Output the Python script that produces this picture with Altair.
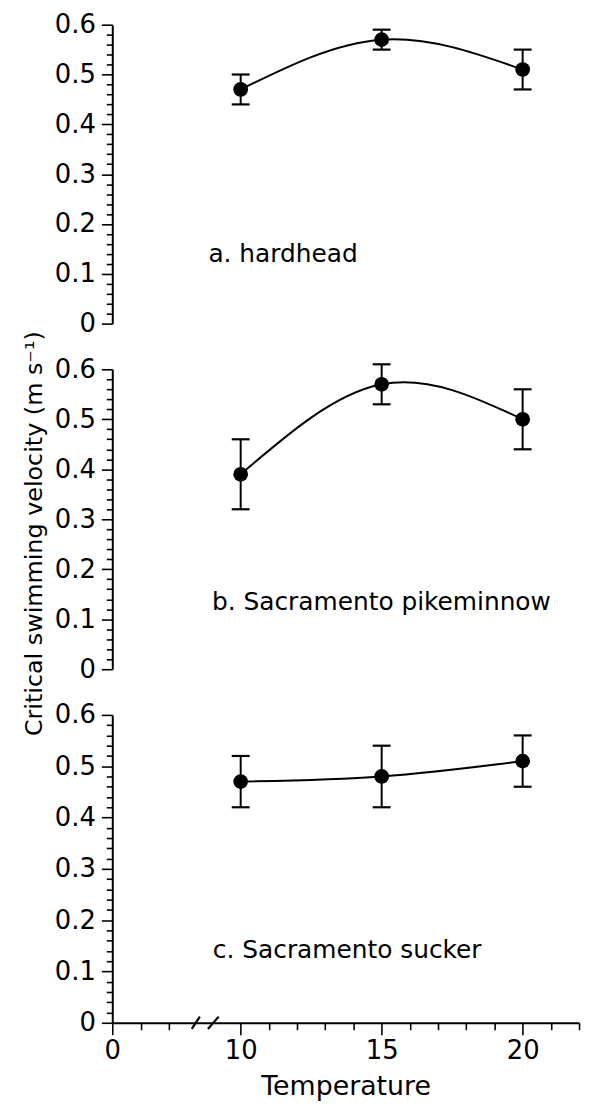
import altair as alt
import pandas as pd

# ---- data ----
TEMPS = [10, 15, 20]
HARDHEAD = [0.47, 0.57, 0.51]
HARDHEAD_LO = [0.44, 0.55, 0.47]
HARDHEAD_HI = [0.50, 0.59, 0.55]
PIKEMINNOW = [0.39, 0.57, 0.50]
PIKEMINNOW_LO = [0.32, 0.53, 0.44]
PIKEMINNOW_HI = [0.46, 0.61, 0.56]
SUCKER = [0.47, 0.48, 0.51]
SUCKER_LO = [0.42, 0.42, 0.46]
SUCKER_HI = [0.52, 0.54, 0.56]

PANEL_LABELS = ["a. hardhead", "b. Sacramento pikeminnow", "c. Sacramento sucker"]
LABEL_X = [6.4, 6.8, 6.9]
LABEL_Y = [0.14, 0.134, 0.142]

Y_TICKS = [round(i * 0.02, 2) for i in range(31)]
Y_MAJOR_TEST = "abs(datum.value * 10 - round(datum.value * 10)) < 0.001"
X_TICKS = [0, 1, 2] + list(range(10, 23))
X_MAJOR_TEST = "indexof([0, 10, 15, 20], datum.value) >= 0"

# broken x axis: piecewise scale (0-2 at full scale, 2-10 compressed)
X_DOMAIN = [0, 2, 10, 22]
X_RANGE = [0, 57, 129.3, 470]

BREAK_X1 = [4.55, 6.35]
BREAK_X2 = [5.45, 7.55]
BREAK_Y1 = [-0.012, -0.012]
BREAK_Y2 = [0.012, 0.012]

FONT = "DejaVu Sans"
W = 470
HEIGHTS = [301, 302, 310]

xscale = alt.Scale(domain=X_DOMAIN, range=X_RANGE, nice=False, zero=False)
yscale = alt.Scale(domain=[0, 0.6], nice=False, zero=False)


def y_axis(title=None):
    kw = dict(
        values=Y_TICKS,
        labelExpr=f"{Y_MAJOR_TEST} ? (datum.value < 0.001 ? '0' : format(datum.value, '.1f')) : ''",
        tickSize={"condition": {"test": Y_MAJOR_TEST, "value": 11}, "value": 6},
        labelFont=FONT, labelFontSize=26, labelColor="black", labelPadding=6,
        labelOverlap=False, labelFlush=False,
        domainColor="black", domainWidth=2, tickColor="black", tickWidth=1.6,
        grid=False,
    )
    if title:
        kw.update(title=title, titleFont=FONT, titleFontSize=24, titleFontWeight="normal",
                  titleColor="black", titleX=-78, titleY=165, titleAngle=270,
                  titleAlign="center", titleBaseline="middle")
    else:
        kw.update(title=None)
    return alt.Axis(**kw)


def x_axis_bottom():
    return alt.Axis(
        values=X_TICKS,
        labelExpr=f"{X_MAJOR_TEST} ? format(datum.value, 'd') : ''",
        tickSize={"condition": {"test": X_MAJOR_TEST, "value": 12}, "value": 7},
        labelFont=FONT, labelFontSize=26, labelColor="black", labelPadding=3,
        labelOverlap=False, labelFlush=False,
        domainColor="black", domainWidth=2, tickColor="black", tickWidth=1.6,
        grid=False,
        title="Temperature", titleFont=FONT, titleFontSize=27, titleFontWeight="normal",
        titleColor="black", titlePadding=10,
    )


def panel(vals, lo, hi, idx, height, yax, show_x):
    df = pd.DataFrame({"t": TEMPS, "v": vals, "lo": lo, "hi": hi})
    base = alt.Chart(df)

    def X(field):
        return alt.X(field, scale=xscale, axis=(x_axis_bottom() if show_x else None))

    def Y(field):
        return alt.Y(field, scale=yscale, axis=yax)

    line = base.mark_line(interpolate="natural", color="black", strokeWidth=2).encode(
        x=X("t:Q"), y=Y("v:Q")
    )
    bars = base.mark_rule(color="black", strokeWidth=2).encode(
        x=X("t:Q"), y=Y("lo:Q"), y2="hi:Q"
    )
    cap_lo = base.mark_tick(orient="horizontal", color="black", size=18, thickness=2.2, opacity=1).encode(
        x=X("t:Q"), y=Y("lo:Q")
    )
    cap_hi = base.mark_tick(orient="horizontal", color="black", size=18, thickness=2.2, opacity=1).encode(
        x=X("t:Q"), y=Y("hi:Q")
    )
    pts = base.mark_circle(color="black", size=220, opacity=1).encode(
        x=X("t:Q"), y=Y("v:Q")
    )
    lab_df = pd.DataFrame({"t": [LABEL_X[idx]], "v": [LABEL_Y[idx]], "text": [PANEL_LABELS[idx]]})
    label = alt.Chart(lab_df).mark_text(
        align="left", baseline="middle", font=FONT, fontSize=25, color="black"
    ).encode(x=X("t:Q"), y=Y("v:Q"), text="text:N")
    layers = [line, bars, cap_lo, cap_hi, pts, label]
    if show_x:
        bdf = pd.DataFrame({"t": BREAK_X1, "t2": BREAK_X2, "v": BREAK_Y1, "v2": BREAK_Y2})
        brk = alt.Chart(bdf).mark_rule(color="black", strokeWidth=2.2).encode(
            x=X("t:Q"), x2="t2:Q", y=Y("v:Q"), y2="v2:Q",
        )
        layers.append(brk)
    return alt.layer(*layers).properties(width=W, height=height)


pa = panel(HARDHEAD, HARDHEAD_LO, HARDHEAD_HI, 0, HEIGHTS[0], y_axis(), False)
pb = panel(PIKEMINNOW, PIKEMINNOW_LO, PIKEMINNOW_HI, 1, HEIGHTS[1],
           y_axis("Critical swimming velocity (m s⁻¹)"), False)
pc = panel(SUCKER, SUCKER_LO, SUCKER_HI, 2, HEIGHTS[2], y_axis(), True)

chart = alt.vconcat(pa, pb, pc, spacing=46, bounds="flush").properties(
    padding={"left": 14, "top": 0, "right": 5, "bottom": 5},
    background="white",
).configure_view(stroke=None)

chart.save("out.html", embed_options={"renderer": "svg", "actions": False})
